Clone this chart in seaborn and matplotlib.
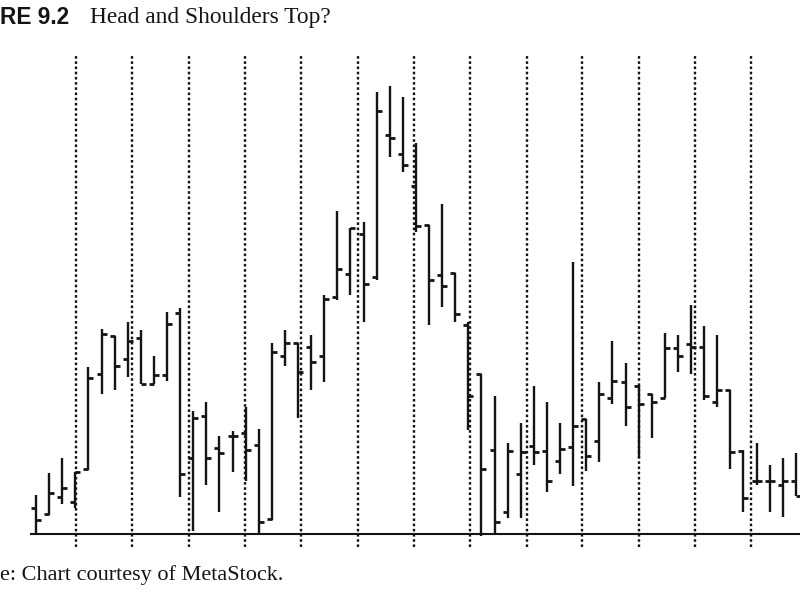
import matplotlib
matplotlib.use('Agg')
import matplotlib.pyplot as plt
import pandas as pd
import seaborn as sns

# Daily bars (open, high, low, close)
opens = [12.6, 12.0, 13.7, 13.2, 16.5, 26.0, 29.8, 27.5, 29.6, 25.0,
         25.9, 32.1, 17.6, 21.8, 18.6, 19.8, 20.1, 18.9, 11.5, 27.8,
         29.1, 28.7, 27.8, 33.7, 36.0, 40.0, 35.7, 49.9, 48.0, 44.8,
         40.9, 35.9, 36.1, 30.9, 26.0, 18.4, 12.2, 16.0, 18.8, 18.3,
         17.3, 18.7, 21.5, 19.3, 23.6, 25.2, 24.8, 24.0, 23.6, 28.6,
         29.0, 28.7, 23.2, 24.4, 18.3, 15.3, 15.3, 14.9, 15.3]
highs = [13.9, 16.1, 17.6, 16.2, 26.7, 30.5, 29.8, 31.2, 30.4, 27.8,
         32.2, 32.6, 22.3, 23.2, 19.8, 20.3, 22.7, 20.5, 29.1, 30.4,
         29.1, 29.9, 33.9, 42.3, 40.6, 41.2, 54.2, 54.8, 53.7, 49.1,
         40.9, 43.0, 36.1, 31.2, 26.0, 23.8, 19.1, 21.1, 24.8, 23.2,
         21.1, 37.2, 21.5, 25.2, 29.3, 27.1, 24.9, 24.0, 30.1, 29.9,
         32.9, 30.8, 29.9, 24.4, 18.4, 19.1, 16.9, 17.6, 18.1]
lows = [10.0, 11.9, 13.0, 12.6, 16.4, 24.0, 24.4, 25.7, 25.0, 25.0,
        25.3, 13.7, 10.3, 14.9, 12.2, 16.2, 15.3, 10.1, 11.4, 26.8,
        21.6, 24.4, 25.2, 33.4, 33.9, 31.2, 35.4, 47.7, 46.2, 40.2,
        30.9, 32.7, 31.2, 20.4, 9.8, 10.1, 11.6, 11.6, 16.9, 14.2,
        16.0, 14.8, 16.3, 17.2, 23.0, 20.8, 17.6, 19.6, 23.6, 26.2,
        26.0, 23.4, 22.7, 16.5, 12.2, 14.9, 12.2, 11.7, 13.8]
closes = [11.4, 14.1, 14.6, 16.2, 25.6, 30.0, 26.8, 29.3, 25.0, 25.9,
          31.0, 16.0, 21.6, 17.6, 18.1, 19.8, 18.4, 11.2, 28.2, 29.1,
          26.2, 27.2, 33.5, 36.5, 40.6, 35.0, 52.3, 49.6, 46.9, 40.8,
          35.4, 34.8, 32.0, 23.8, 16.5, 11.2, 18.3, 18.2, 18.2, 15.3,
          18.5, 20.8, 17.8, 24.0, 25.3, 22.7, 23.0, 23.2, 28.6, 27.8,
          28.7, 23.8, 24.4, 18.2, 13.6, 15.3, 15.3, 15.3, 13.8]

# Month separators (in bar units)
month_marks = [3.05, 7.35, 11.65, 15.95, 20.25, 24.55, 28.85, 33.15,
               37.45, 41.7, 46.0, 50.3, 54.6]

df = pd.DataFrame({'open': opens, 'high': highs, 'low': lows, 'close': closes})
df['bar'] = range(len(df))

sns.set_theme(style='white')
ink = '#141414'

fig = plt.figure(figsize=(8, 6), dpi=100)
ax = fig.add_axes([30 / 800, 53 / 600, 770 / 800, 517 / 600])
ax.set_xlim(-0.46, 58.32)
ax.set_ylim(8.7, 60.4)
ax.axis('off')

# dotted month lines and the baseline
ax.vlines(month_marks, 8.7, 57.8, colors=ink, linestyles=(0, (1.1, 1.1)), lw=1.7)
ax.axhline(10, color=ink, lw=1.5)

# OHLC bars
ax.vlines(df['bar'], df['low'], df['high'], colors=ink, lw=1.7)
ax.plot(df['bar'], df['open'], ls='none', marker=0, ms=3.6, mew=2.0, color=ink)
ax.plot(df['bar'], df['close'], ls='none', marker=1, ms=3.6, mew=2.0, color=ink)

fig.text(0.0, 1 - 18 / 600, 'RE 9.2', fontsize=16.3, fontweight='bold',
         family='Liberation Sans', color=ink, ha='left', va='center')
fig.text(90 / 800, 1 - 18 / 600, 'Head and Shoulders Top?', fontsize=16.8,
         family='Liberation Serif', color=ink, ha='left', va='center')
fig.text(0.0, 1 - 575 / 600, 'e: Chart courtesy of MetaStock.', fontsize=16.0,
         family='Liberation Serif', color=ink, ha='left', va='center')

fig.savefig('out.png', dpi=100, facecolor='white')
